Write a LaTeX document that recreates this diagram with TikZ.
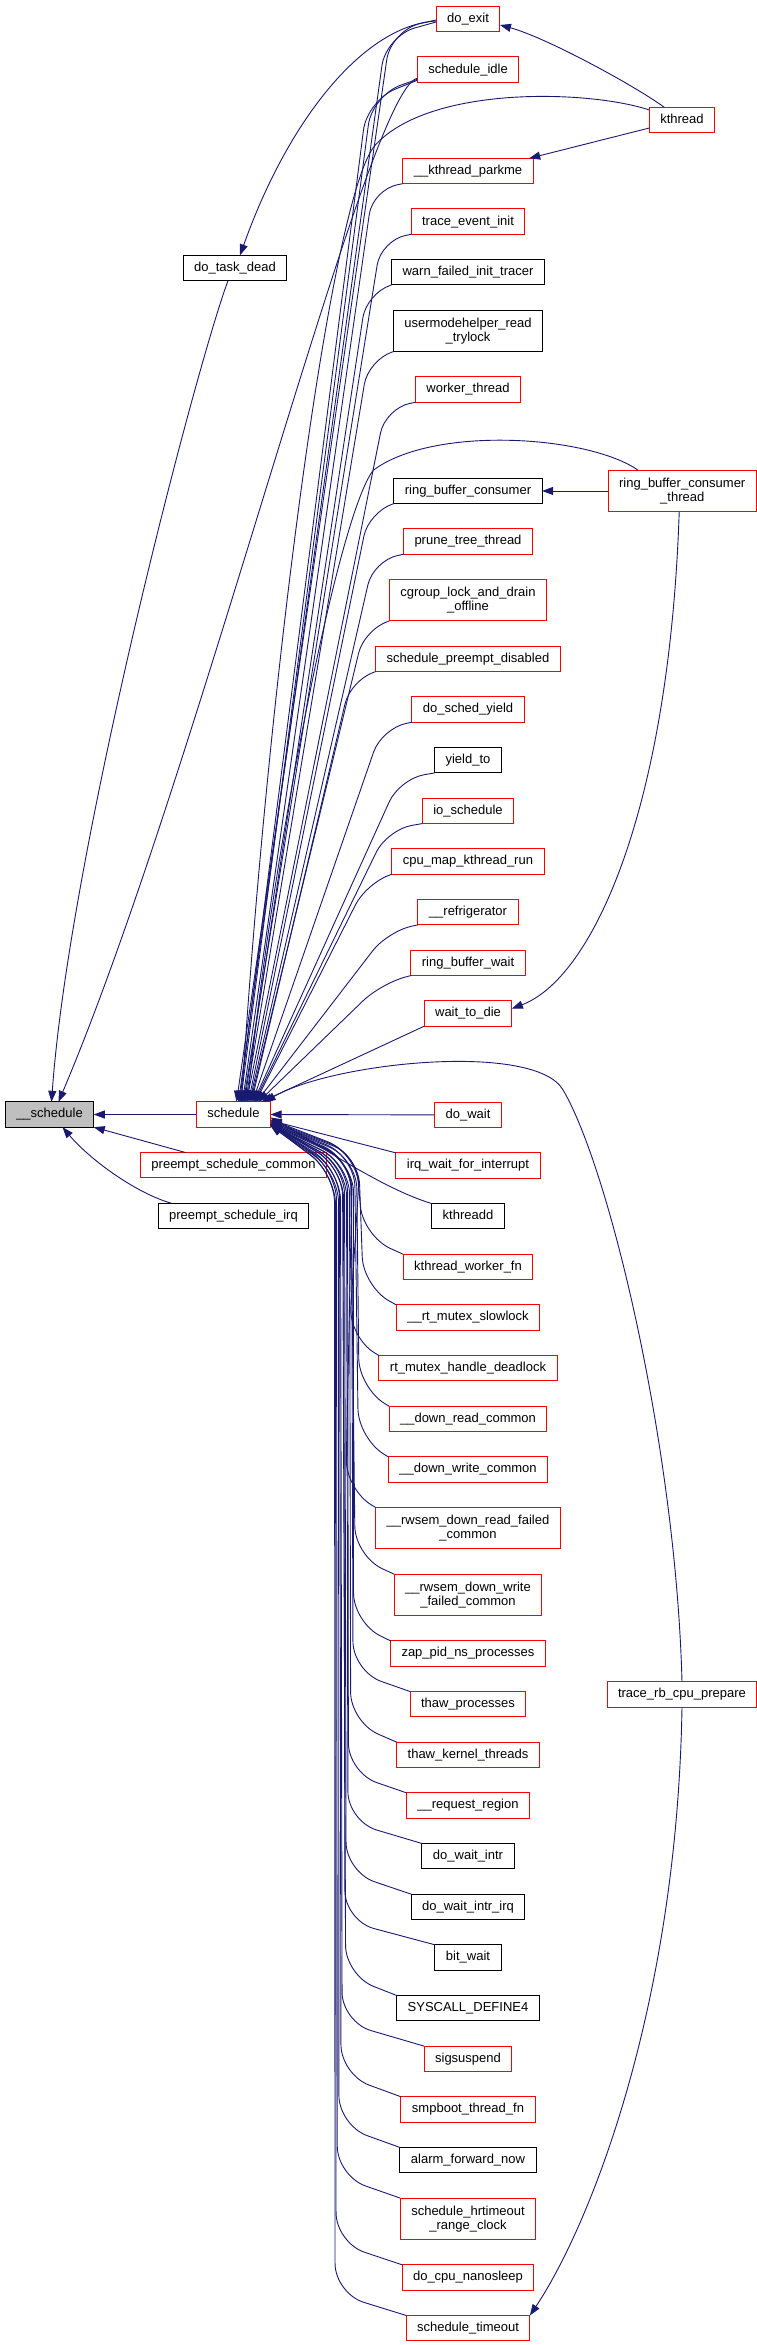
\documentclass[tikz,border=0pt]{standalone}
\usepackage{fontspec}
\setmainfont{Liberation Sans}
\usepackage{xcolor}
\usepackage{tikz}
\usetikzlibrary{arrows.meta,positioning}
\definecolor{edgeblue}{HTML}{191970}
\begin{document}
\begin{tikzpicture}[x=1pt,y=-1pt,font=\fontsize{13}{14}\selectfont,node distance=25.33pt]
\tikzset{fn/.style={draw,line width=1pt,fill=white,inner xsep=11pt,inner ysep=2pt,outer sep=0pt,text height=9.5pt,text depth=2.8pt,minimum height=25.33pt}, trunc/.style={fn,draw=red}, plain/.style={fn,draw=black}, two/.style={text height=,text depth=,align=center,minimum height=41.33pt}, flow/.style={-{Triangle[length=11pt,width=8pt]},line width=0.9pt,color=edgeblue}}
\useasboundingbox (0,0) rectangle (757,2345);
\node[trunc] (doexit) at (468,19) {do\_exit};
\node[trunc,below=of doexit] (schedidle) {schedule\_idle};
\node[trunc,below=76pt of schedidle] (parkme) {\_\_kthread\_parkme};
\node[trunc,below=of parkme] (traceinit) {trace\_event\_init};
\node[plain,below=of traceinit] (warntracer) {warn\_failed\_init\_tracer};
\node[plain,two,below=of warntracer] (umhlock) {usermodehelper\_read\\\_trylock};
\node[trunc,below=of umhlock] (worker) {worker\_thread};
\node[plain,below=76pt of worker] (rbconsumer) {ring\_buffer\_consumer};
\node[trunc,below=of rbconsumer] (prunetree) {prune\_tree\_thread};
\node[trunc,two,below=of prunetree] (cgroupdrain) {cgroup\_lock\_and\_drain\\\_offline};
\node[trunc,below=of cgroupdrain] (preemptdis) {schedule\_preempt\_disabled};
\node[trunc,below=of preemptdis] (schedyield) {do\_sched\_yield};
\node[plain,below=of schedyield] (yieldto) {yield\_to};
\node[trunc,below=of yieldto] (ioschedule) {io\_schedule};
\node[trunc,below=of ioschedule] (cpumap) {cpu\_map\_kthread\_run};
\node[trunc,below=of cpumap] (refrigerator) {\_\_refrigerator};
\node[trunc,below=of refrigerator] (rbwait) {ring\_buffer\_wait};
\node[trunc,below=of rbwait] (waitdie) {wait\_to\_die};
\node[trunc,below=76pt of waitdie] (dowait) {do\_wait};
\node[trunc,below=of dowait] (irqwait) {irq\_wait\_for\_interrupt};
\node[plain,below=of irqwait] (kthreadd) {kthreadd};
\node[trunc,below=of kthreadd] (kworker) {kthread\_worker\_fn};
\node[trunc,below=of kworker] (rtslowlock) {\_\_rt\_mutex\_slowlock};
\node[trunc,below=of rtslowlock] (rtdeadlock) {rt\_mutex\_handle\_deadlock};
\node[trunc,below=of rtdeadlock] (downread) {\_\_down\_read\_common};
\node[trunc,below=of downread] (downwrite) {\_\_down\_write\_common};
\node[trunc,two,below=of downwrite] (rwsemread) {\_\_rwsem\_down\_read\_failed\\\_common};
\node[trunc,two,below=of rwsemread] (rwsemwrite) {\_\_rwsem\_down\_write\\\_failed\_common};
\node[trunc,below=of rwsemwrite] (zappid) {zap\_pid\_ns\_processes};
\node[trunc,below=of zappid] (thawproc) {thaw\_processes};
\node[trunc,below=of thawproc] (thawkern) {thaw\_kernel\_threads};
\node[trunc,below=of thawkern] (reqregion) {\_\_request\_region};
\node[plain,below=of reqregion] (waitintr) {do\_wait\_intr};
\node[plain,below=of waitintr] (waitintrirq) {do\_wait\_intr\_irq};
\node[plain,below=of waitintrirq] (bitwait) {bit\_wait};
\node[plain,below=of bitwait] (syscall4) {SYSCALL\_DEFINE4};
\node[trunc,below=of syscall4] (sigsuspend) {sigsuspend};
\node[trunc,below=of sigsuspend] (smpboot) {smpboot\_thread\_fn};
\node[plain,below=of smpboot] (alarmfwd) {alarm\_forward\_now};
\node[trunc,two,below=of alarmfwd] (hrtimeout) {schedule\_hrtimeout\\\_range\_clock};
\node[trunc,below=of hrtimeout] (nanosleep) {do\_cpu\_nanosleep};
\node[trunc,below=of nanosleep] (schedtimeout) {schedule\_timeout};
\node[trunc] (kthread) at (682,120) {kthread};
\node[trunc,two,right=66pt of rbconsumer] (rbthread) {ring\_buffer\_consumer\\\_thread};
\node[trunc] (tracerb) at (682,1694.5) {trace\_rb\_cpu\_prepare};
\node[trunc] (sched) at (233.5,1114.5) {schedule};
\node[trunc,below=of sched] (preemptcommon) {preempt\_schedule\_common};
\node[plain,below=of preemptcommon] (preemptirq) {preempt\_schedule\_irq};
\node[plain] (taskdead) at (235,268) {do\_task\_dead};
\node[fn,fill=gray!50] (core) at (49.5,1114.5) {\_\_schedule};
\draw[flow] (sched.west) -- (core.east);
\draw[flow] ([xshift=-48pt]preemptcommon.north) -- (core.south east);
\draw[flow] ([xshift=13pt]preemptirq.north west) .. controls +(-35,-10) and +(28,33) .. ([xshift=13pt]core.south);
\draw[flow] ([xshift=-7pt]taskdead.south) .. controls +(-33,89) and +(18,-250) .. ([xshift=2pt]core.north);
\draw[flow] ([yshift=4pt]schedidle.south west) .. controls +(-50,10) and +(140,-330) .. ([xshift=9pt]core.north);
\draw[flow] ([yshift=-2pt]doexit.west) .. controls +(-70,4) and +(50,-140) .. ([xshift=5pt]taskdead.north);
\draw[flow] ([xshift=15pt]kthread.north west) .. controls +(-30,-22) and +(45,12) .. ([yshift=-6pt]doexit.east);
\draw[flow] ([yshift=-8pt]kthread.west) -- ([xshift=-4pt]parkme.north east);
\draw[flow] (rbthread.west) -- (rbconsumer.east);
\draw[flow] ([xshift=-3pt]rbthread.south) .. controls +(-10,300) and +(80,-30) .. ([yshift=5pt]waitdie.east);
\draw[flow] (tracerb.south) .. controls +(-5,300) and +(60,-90) .. (schedtimeout.north east);
\draw[flow,rounded corners=30pt] ([yshift=-1pt]doexit.west) -- ++(-45,10) -- ([xshift=3pt]sched.north);
\draw[flow,rounded corners=30pt] ([yshift=-3pt]doexit.west) -- ++(-50,14) -- ([xshift=5pt]sched.north);
\draw[flow,rounded corners=30pt] ([yshift=2pt]schedidle.south west) -- ++(-50,20) -- ([xshift=6pt]sched.north);
\draw[flow,rounded corners=30pt] ([yshift=3pt]schedidle.south west) -- ++(-45,16) -- ([xshift=7pt]sched.north);
\draw[flow] ([yshift=10pt]kthread.west) .. controls +(-60,-20) and +(55,-60) .. ++(-274,35) .. controls +(-45,50) and +(25,-400) .. ([xshift=8pt]sched.north);
\draw[flow,rounded corners=25pt] (parkme.south west) -- ++(-30,6) -- ([xshift=9pt]sched.north);
\draw[flow,rounded corners=25pt] (traceinit.south west) -- ++(-30,6) -- ([xshift=10pt]sched.north);
\draw[flow,rounded corners=25pt] (warntracer.south west) -- ++(-25,8) -- ([xshift=11pt]sched.north);
\draw[flow,rounded corners=25pt] (umhlock.south west) -- ++(-25,8) -- ([xshift=12pt]sched.north);
\draw[flow,rounded corners=25pt] (worker.south west) -- ++(-30,6) -- ([xshift=13pt]sched.north);
\draw[flow] ([xshift=-44pt]rbthread.north) .. controls +(-50,-35) and +(60,-45) .. ++(-265,0) .. controls +(-35,45) and +(25,-250) .. ([xshift=14pt]sched.north);
\draw[flow,rounded corners=25pt] (rbconsumer.south west) -- ++(-25,8) -- ([xshift=15pt]sched.north);
\draw[flow,rounded corners=25pt] (prunetree.south west) -- ++(-30,6) -- ([xshift=16pt]sched.north);
\draw[flow,rounded corners=25pt] (cgroupdrain.south west) -- ++(-25,8) -- ([xshift=17pt]sched.north);
\draw[flow,rounded corners=25pt] (preemptdis.south west) -- ++(-25,8) -- ([xshift=18pt]sched.north);
\draw[flow,rounded corners=25pt] (schedyield.south west) -- ++(-30,6) -- ([xshift=19pt]sched.north);
\draw[flow,rounded corners=25pt] (yieldto.south west) -- ++(-35,6) -- ([xshift=20pt]sched.north);
\draw[flow,rounded corners=25pt] (ioschedule.south west) -- ++(-35,6) -- ([xshift=21pt]sched.north);
\draw[flow,rounded corners=25pt] (cpumap.south west) -- ++(-25,8) -- ([xshift=22pt]sched.north);
\draw[flow,rounded corners=25pt] (refrigerator.south west) -- ++(-30,6) -- ([xshift=23pt]sched.north);
\draw[flow,rounded corners=25pt] (rbwait.south west) -- ++(-30,8) -- ([xshift=25pt]sched.north);
\draw[flow] (waitdie.south west) -- ([xshift=28pt]sched.north);
\draw[flow] (tracerb.north) .. controls +(-6,-232) and +(47,80) .. ++(-119,-592) .. controls +(-28,-48) and +(70,-40) .. ([xshift=31pt]sched.north);
\draw[flow] (dowait.west) -- (sched.east);
\draw[flow] (irqwait.north west) -- ([yshift=-6pt]sched.east);
\draw[flow] (kthreadd.north west) .. controls +(-50,-15) and +(45,25) .. ([yshift=-3pt]sched.east);
\draw[flow,rounded corners=30pt] (kworker.north west) -- ++(-40,-18) -- ([xshift=85pt,yshift=-38pt]sched.east) -- ([yshift=-5pt]sched.east);
\draw[flow,rounded corners=30pt] (rtslowlock.north west) -- ++(-33,-18) -- ([xshift=88pt,yshift=-40pt]sched.east) -- ([yshift=-6pt]sched.east);
\draw[flow,rounded corners=30pt] (rtdeadlock.north west) -- ++(-30,-18) -- ([xshift=90pt,yshift=-42pt]sched.east) -- ([yshift=-7pt]sched.east);
\draw[flow,rounded corners=30pt] (downread.north west) -- ++(-30,-18) -- ([xshift=86pt,yshift=-44pt]sched.east) -- ([yshift=-8pt]sched.east);
\draw[flow,rounded corners=30pt] (downwrite.north west) -- ++(-30,-18) -- ([xshift=84pt,yshift=-42pt]sched.east) -- ([yshift=-7pt]sched.east);
\draw[flow,rounded corners=30pt] (rwsemread.north west) -- ++(-30,-18) -- ([xshift=82pt,yshift=-46pt]sched.east) -- ([yshift=-9pt]sched.east);
\draw[flow,rounded corners=30pt] (rwsemwrite.north west) -- ++(-39,-18) -- ([xshift=80pt,yshift=-44pt]sched.east) -- ([yshift=-8pt]sched.east);
\draw[flow,rounded corners=30pt] (zappid.north west) -- ++(-37,-18) -- ([xshift=83pt,yshift=-48pt]sched.east) -- ([yshift=-10pt]sched.east);
\draw[flow,rounded corners=30pt] (thawproc.north west) -- ++(-57,-20) -- ([xshift=81pt,yshift=-46pt]sched.east) -- ([yshift=-9pt]sched.east);
\draw[flow,rounded corners=30pt] (thawkern.north west) -- ++(-46,-20) -- ([xshift=79pt,yshift=-50pt]sched.east) -- ([yshift=-10pt]sched.east);
\draw[flow,rounded corners=30pt] (reqregion.north west) -- ++(-58,-20) -- ([xshift=77pt,yshift=-48pt]sched.east) -- ([yshift=-11pt]sched.east);
\draw[flow,rounded corners=30pt] (waitintr.north west) -- ++(-74,-22) -- ([xshift=76pt,yshift=-52pt]sched.east) -- ([yshift=-10pt]sched.east);
\draw[flow,rounded corners=30pt] (waitintrirq.north west) -- ++(-65,-22) -- ([xshift=74pt,yshift=-50pt]sched.east) -- ([yshift=-11pt]sched.east);
\draw[flow,rounded corners=30pt] (bitwait.north west) -- ++(-90,-24) -- ([xshift=73pt,yshift=-54pt]sched.east) -- ([yshift=-9pt]sched.east);
\draw[flow,rounded corners=30pt] (syscall4.north west) -- ++(-51,-20) -- ([xshift=72pt,yshift=-52pt]sched.east) -- ([yshift=-10pt]sched.east);
\draw[flow,rounded corners=30pt] (sigsuspend.north west) -- ++(-82,-24) -- ([xshift=70pt,yshift=-56pt]sched.east) -- ([yshift=-11pt]sched.east);
\draw[flow,rounded corners=30pt] (smpboot.north west) -- ++(-60,-22) -- ([xshift=69pt,yshift=-54pt]sched.east) -- ([yshift=-10pt]sched.east);
\draw[flow,rounded corners=30pt] (alarmfwd.north west) -- ++(-61,-22) -- ([xshift=68pt,yshift=-58pt]sched.east) -- ([yshift=-11pt]sched.east);
\draw[flow,rounded corners=30pt] (hrtimeout.north west) -- ++(-63,-22) -- ([xshift=66pt,yshift=-56pt]sched.east) -- ([yshift=-9pt]sched.east);
\draw[flow,rounded corners=30pt] (nanosleep.north west) -- ++(-66,-22) -- ([xshift=65pt,yshift=-60pt]sched.east) -- ([yshift=-10pt]sched.east);
\draw[flow,rounded corners=30pt] (schedtimeout.north west) -- ++(-71,-22) -- ([xshift=64pt,yshift=-58pt]sched.east) -- ([yshift=-11pt]sched.east);
\end{tikzpicture}
\end{document}
